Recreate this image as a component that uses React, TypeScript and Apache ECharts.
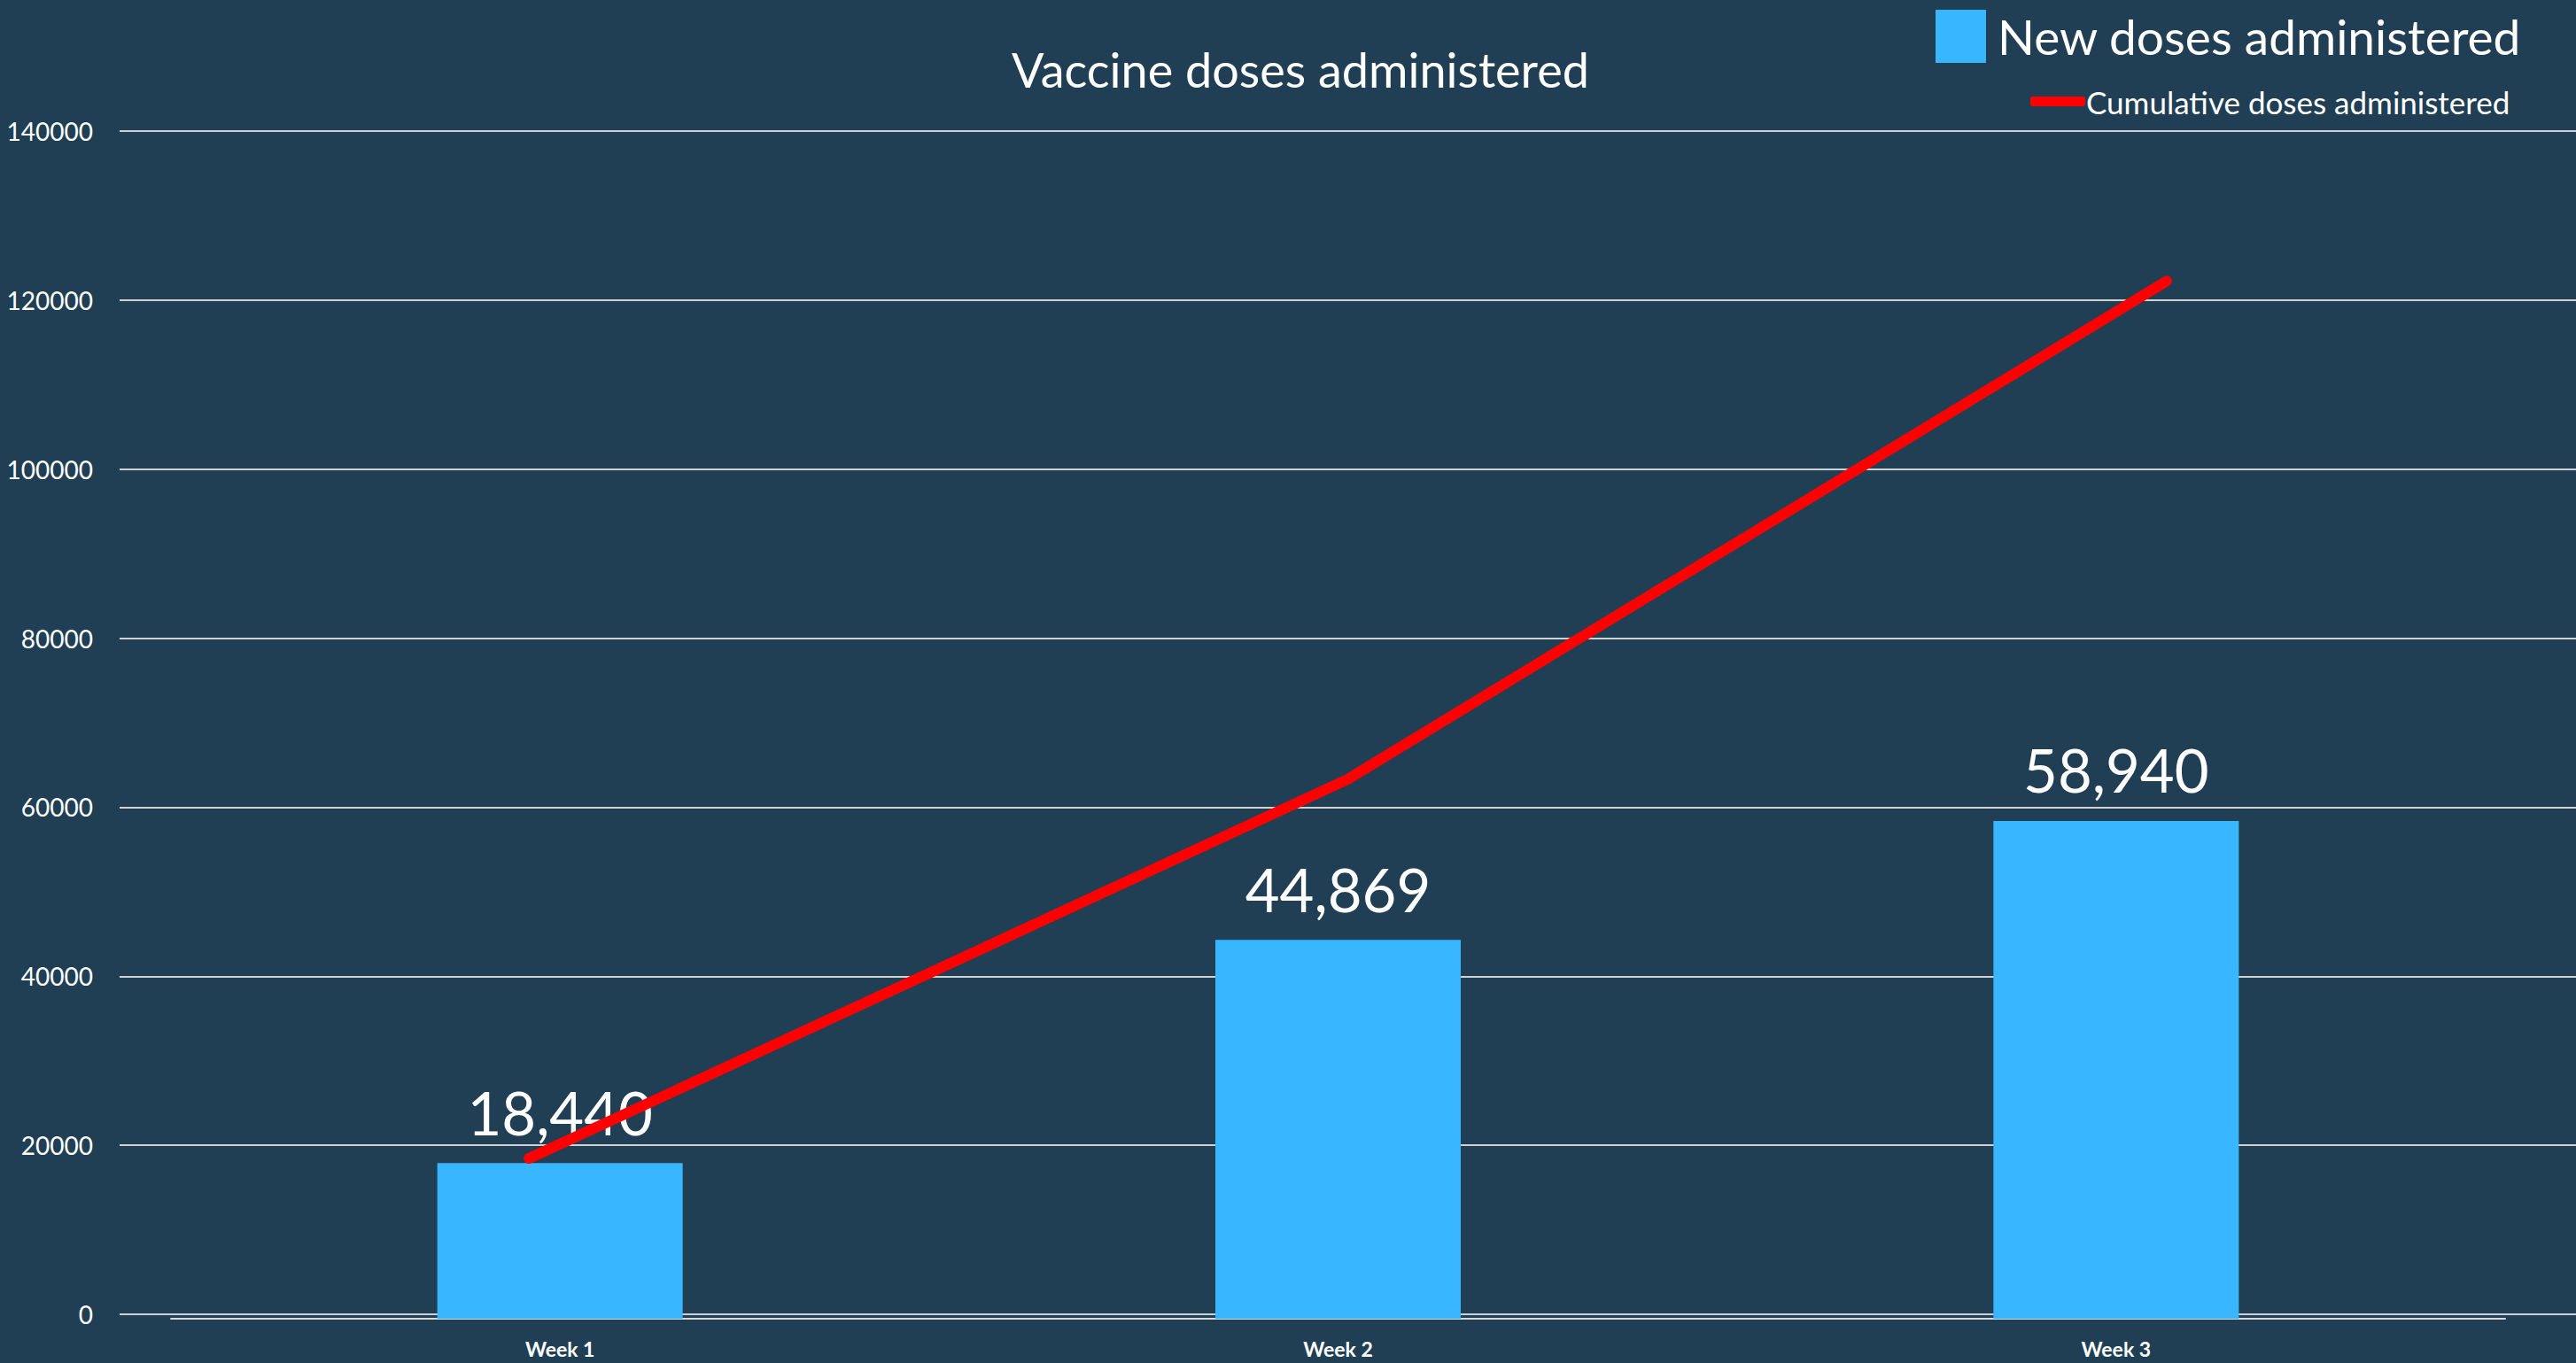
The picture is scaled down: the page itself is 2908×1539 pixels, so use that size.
import React, { useEffect, useRef } from "react";
import * as echarts from "echarts";

const categories = ["Week 1", "Week 2", "Week 3"];
const newDoses = [18440, 44869, 58940];
const cumulativeDoses = [18440, 63309, 122249];
const yMin = 0;
const yMax = 140000;
const yStep = 20000;

const FONT = "Lato, 'Noto Sans', sans-serif";

export default function App() {
  const ref = useRef<HTMLDivElement>(null);
  useEffect(() => {
    if (!ref.current) return;
    const chart = echarts.init(ref.current, undefined, { renderer: "svg" });
    chart.setOption({
      animation: false,
      backgroundColor: "#203f55",
      textStyle: { fontFamily: FONT },
      title: {
        text: "Vaccine doses administered",
        left: 1463,
        textAlign: "center",
        top: 46,
        textStyle: { color: "#ffffff", fontSize: 54, fontWeight: "normal", fontFamily: FONT },
      },
      legend: [
        {
          data: [{ name: "New doses administered", icon: "rect" }],
          left: 2180,
          top: 6,
          itemWidth: 57,
          itemHeight: 60,
          textStyle: { color: "#ffffff", fontSize: 55, fontFamily: FONT, padding: [0, 0, 0, 8] },
        },
        {
          data: [{ name: "Cumulative doses administered", icon: "roundRect" }],
          left: 2287,
          top: 92,
          itemWidth: 62,
          itemHeight: 11,
          textStyle: { color: "#ffffff", fontSize: 35, fontFamily: FONT, padding: [0, 0, 0, -4] },
        },
      ],
      grid: [
        { left: 135, right: 0, top: 148, bottom: 55 },
        { left: 193, right: 80, top: 154, bottom: 50 },
      ],
      xAxis: [
        {
          type: "category",
          gridIndex: 0,
          data: categories,
          show: false,
        },
        {
          type: "category",
          gridIndex: 1,
          data: categories,
          axisLine: { show: true, lineStyle: { color: "#d9d9d9", width: 2 } },
          axisTick: { show: false },
          axisLabel: {
            color: "#ffffff",
            fontSize: 23,
            fontWeight: "bold",
            fontFamily: FONT,
            margin: 22,
          },
        },
      ],
      yAxis: [
        {
          type: "value",
          gridIndex: 0,
          min: yMin,
          max: yMax,
          interval: yStep,
          axisLine: { show: false },
          axisTick: { show: false },
          axisLabel: {
            color: "#ffffff",
            fontSize: 28,
            fontFamily: FONT,
            margin: 30,
            formatter: (v: number) => String(v),
          },
          splitLine: { show: true, lineStyle: { color: "#d0d0d0", width: 2 } },
        },
        {
          type: "value",
          gridIndex: 1,
          min: yMin,
          max: yMax,
          interval: yStep,
          show: false,
          splitLine: { show: false },
        },
      ],
      series: [
        {
          name: "New doses administered",
          type: "bar",
          xAxisIndex: 1,
          yAxisIndex: 1,
          data: newDoses,
          barWidth: 277,
          z: 2,
          itemStyle: { color: "#38b6ff" },
          label: {
            show: true,
            position: "top",
            distance: 24,
            color: "#ffffff",
            fontSize: 67,
            fontFamily: FONT,
            formatter: (p: any) => Number(p.value).toLocaleString("en-US"),
          },
        },
        {
          name: "Cumulative doses administered",
          type: "line",
          xAxisIndex: 0,
          yAxisIndex: 0,
          data: cumulativeDoses,
          symbol: "none",
          z: 10,
          itemStyle: { color: "#ff0000" },
          lineStyle: { color: "#ff0000", width: 12, cap: "round", join: "round" },
        },
      ],
    });
    return () => chart.dispose();
  }, []);
  return (
    <div
      ref={ref}
      style={{ position: "fixed", left: 0, top: 0, width: "100vw", height: "100vh" }}
    />
  );
}
